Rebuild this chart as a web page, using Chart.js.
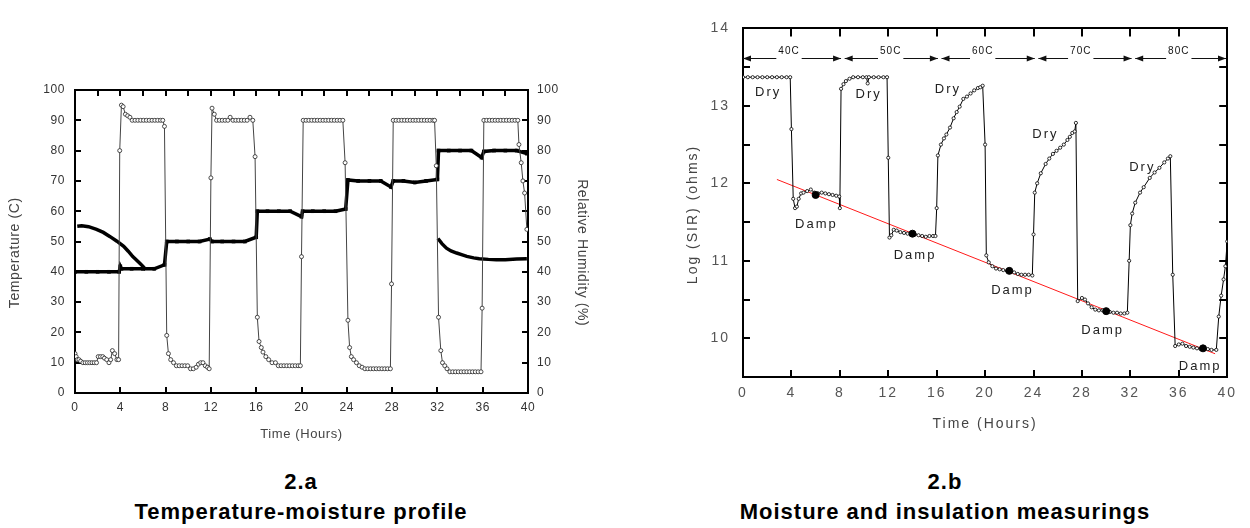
<!DOCTYPE html>
<html>
<head>
<meta charset="utf-8">
<script src="https://cdn.jsdelivr.net/npm/chart.js@4.4.1/dist/chart.umd.min.js"></script>
<style>
  html, body { margin: 0; padding: 0; background: #fff; }
  #page { position: relative; width: 1250px; height: 528px; overflow: hidden; }
  canvas { position: absolute; }
  #chartA { left: 0; top: 60px; }
  #chartB { left: 640px; top: 0; }
  .cap { position: absolute; width: 600px; text-align: center; font: bold 22px 'Liberation Sans', Arial, sans-serif; letter-spacing: 1px; line-height: 30px; color: #000; }
</style>
</head>
<body>
<div id="page">
  <canvas id="chartA" width="620" height="400"></canvas>
  <canvas id="chartB" width="610" height="440"></canvas>
  <div class="cap" style="left:1px; top:467px">2.a</div>
  <div class="cap" style="left:1px; top:497px">Temperature-moisture profile</div>
  <div class="cap" style="left:645px; top:467px">2.b</div>
  <div class="cap" style="left:645px; top:497px">Moisture and insulation measurings</div>
</div>
<script>
// ---- 2.a : temperature / humidity profile, [hours, value] ----
const humidity = [
  [0,13],[0.1,12],[0.2,11],[0.35,11],[0.5,10.5],[0.7,10],[0.9,10],[1.1,10],[1.3,10],[1.5,10],[1.7,10],[1.9,10],
  [2.05,12],[2.25,12],[2.45,12],[2.6,11.5],[2.8,11],[3.0,10],[3.15,11],[3.3,14],[3.5,13],[3.7,11],[3.85,11],
  [3.95,80],[4.1,95],[4.25,94.5],[4.45,92],[4.65,91.5],[4.85,91],[5.05,90],[5.3,90],[5.55,90],[5.8,90],[6.05,90],
  [6.3,90],[6.55,90],[6.8,90],[7.05,90],[7.3,90],[7.55,90],[7.75,90],[7.9,88],
  [8.1,19],[8.25,13],[8.45,11],[8.7,10],[8.95,9],[9.2,9],[9.45,9],[9.7,9],[9.95,9],[10.2,8],[10.45,8],[10.7,8.5],
  [10.9,9.5],[11.1,10],[11.3,10],[11.5,9],[11.7,8.5],[11.85,8],
  [12.0,71],[12.1,94],[12.3,92],[12.5,90],[12.75,90],[13.0,90],[13.25,90],[13.5,90],[13.7,91],[13.95,90],[14.2,90],
  [14.45,90],[14.7,90],[14.95,90],[15.2,90],[15.45,91],[15.7,90],[15.9,78],
  [16.1,25],[16.25,17],[16.45,15],[16.6,13.5],[16.85,12],[17.1,11],[17.4,10],[17.7,10],[17.95,9],[18.2,9],[18.45,9],
  [18.7,9],[18.95,9],[19.2,9],[19.45,9],[19.7,9],[19.9,9],
  [20.0,45],[20.15,90],[20.4,90],[20.65,90],[20.9,90],[21.15,90],[21.4,90],[21.65,90],[21.9,90],[22.15,90],[22.4,90],
  [22.65,90],[22.9,90],[23.15,90],[23.4,90],[23.65,90],[23.85,76],
  [24.1,24],[24.25,15],[24.4,12],[24.6,11],[24.85,10],[25.1,9],[25.35,8.5],[25.6,8],[25.85,8],[26.1,8],[26.35,8],
  [26.6,8],[26.85,8],[27.1,8],[27.35,8],[27.6,8],[27.85,8],
  [27.95,36],[28.1,90],[28.35,90],[28.6,90],[28.85,90],[29.1,90],[29.35,90],[29.6,90],[29.85,90],[30.1,90],[30.35,90],
  [30.6,90],[30.85,90],[31.1,90],[31.35,90],[31.6,90],[31.75,90],[31.9,75],
  [32.1,25],[32.3,14],[32.45,10],[32.65,9],[32.85,8],[33.1,7],[33.35,7],[33.6,7],[33.85,7],[34.1,7],[34.35,7],
  [34.6,7],[34.85,7],[35.1,7],[35.35,7],[35.6,7],[35.85,7],
  [35.95,28],[36.1,90],[36.35,90],[36.6,90],[36.85,90],[37.1,90],[37.35,90],[37.6,90],[37.85,90],[38.1,90],[38.35,90],
  [38.6,90],[38.85,90],[39.1,90],[39.2,82],[39.4,76],[39.55,70],[39.7,66],[39.9,54]
];

const temperature = [
  [0,40],[1,40],[2,40],[3,40],[3.9,40],[4.0,41.8],[4.1,41],[5,41],[6,41],[7,41],[7.9,42.3],
  [8.1,50],[9,50],[10,50],[11,50],[11.9,50.8],[12.1,50],[13,50],[14,50],[15,50],[16.0,51.4],
  [16.1,60],[17,60],[18,60],[19,60],[20.0,58.2],[20.1,60],[21,60],[22,60],[23,60],[23.9,60.7],
  [24.1,70.3],[25,70],[26,70],[27,70],[27.9,68],[28.1,70],[29,70],[30,69.5],[31,70],[32.0,70.5],
  [32.1,80],[33,80],[34,80],[35,80],[35.9,77.7],[36.1,79.7],[37,80],[38,80],[39,80],[39.9,79]
];

const coolingFirst = [
  [0.2,55],[0.6,55.2],[1.2,54.9],[1.9,54],[2.5,53],[3.1,51.6],[3.7,50.1],[4.3,48.4],[4.7,46.8],
  [5.1,45],[5.4,44],[5.7,42.9],[6.0,41.8],[6.25,40.7]
];
const coolingLast = [
  [32.05,51],[32.4,49.3],[32.8,47.8],[33.2,46.9],[33.7,46.2],[34.2,45.6],[34.6,45.1],[35.2,44.6],
  [35.7,44.3],[36.5,44.1],[37.2,44],[38,44],[39,44.2],[39.9,44.3]
];

// ---- 2.b : log SIR, [hours, log ohms] ----
const sir = [
  [0,13.37],[0.4,13.37],[0.8,13.37],[1.2,13.37],[1.6,13.37],[2.0,13.37],[2.4,13.37],[2.8,13.37],[3.2,13.37],[3.6,13.37],[3.9,13.37],
  [4.0,12.7],[4.15,11.8],[4.3,11.68],[4.45,11.7],[4.6,11.8],[4.8,11.87],[5.0,11.88],[5.3,11.9],[5.6,11.92],[5.9,11.88],
  [6.2,11.87],[6.5,11.88],[6.8,11.87],[7.1,11.86],[7.4,11.85],[7.7,11.84],[7.95,11.83],[8.0,11.68],
  [8.1,13.22],[8.3,13.28],[8.5,13.32],[8.8,13.35],[9.1,13.37],[9.5,13.37],[9.9,13.37],[10.2,13.37],[10.3,13.29],
  [10.4,13.37],[10.8,13.37],[11.2,13.37],[11.6,13.37],[11.9,13.37],
  [12.0,12.33],[12.1,11.3],[12.25,11.33],[12.45,11.4],[12.7,11.39],[13.0,11.37],[13.3,11.36],[13.6,11.35],[13.9,11.34],
  [14.2,11.34],[14.5,11.33],[14.8,11.32],[15.1,11.31],[15.4,11.32],[15.7,11.32],[15.9,11.32],
  [16.0,11.68],[16.1,12.36],[16.35,12.5],[16.6,12.58],[16.8,12.63],[17.1,12.72],[17.4,12.84],[17.65,12.92],[17.9,12.99],
  [18.2,13.09],[18.5,13.12],[18.8,13.16],[19.1,13.2],[19.4,13.23],[19.6,13.24],[19.8,13.26],
  [20.0,12.5],[20.1,11.07],[20.3,10.98],[20.6,10.93],[20.9,10.9],[21.2,10.89],[21.5,10.88],[21.8,10.87],[22.1,10.86],
  [22.4,10.85],[22.7,10.83],[23.0,10.82],[23.3,10.82],[23.6,10.82],[23.9,10.81],
  [24.0,11.34],[24.1,11.88],[24.3,12.0],[24.6,12.13],[25.0,12.25],[25.3,12.32],[25.6,12.38],[25.9,12.42],[26.2,12.46],
  [26.5,12.5],[26.8,12.56],[27.0,12.6],[27.2,12.65],[27.4,12.67],[27.5,12.78],
  [27.65,10.48],[28.0,10.52],[28.25,10.5],[28.5,10.45],[28.8,10.4],[29.1,10.37],[29.4,10.36],[29.7,10.36],[30.0,10.35],
  [30.3,10.34],[30.6,10.33],[30.9,10.33],[31.2,10.32],[31.5,10.32],[31.75,10.33],
  [31.9,11.0],[32.0,11.46],[32.15,11.61],[32.4,11.75],[32.8,11.88],[33.1,11.95],[33.6,12.07],[34.0,12.14],[34.4,12.2],
  [34.8,12.27],[35.1,12.32],[35.3,12.35],
  [35.5,10.82],[35.7,9.9],[36.0,9.92],[36.3,9.93],[36.6,9.9],[36.9,9.89],[37.2,9.88],[37.5,9.87],[37.8,9.86],
  [38.1,9.86],[38.4,9.86],[38.7,9.85],[39.1,9.85],
  [39.3,10.28],[39.5,10.55],[39.7,10.76],[39.85,10.93],[40.0,11.25]
];
const dampMeans = [[6,11.85],[14,11.35],[22,10.87],[30,10.35],[38,9.87]];
const dampTrend = [[2.8,12.05],[39,9.8]];

const dryLabels = [[1.0,13.18],[9.3,13.15],[15.85,13.21],[23.9,12.63],[31.9,12.21]];
const dampLabels = [[4.3,11.47],[12.45,11.07],[20.5,10.62],[27.95,10.1],[36.0,9.64]];
const stageNames = ['40C', '50C', '60C', '70C', '80C'];
const stageSpans = [[0,8.1],[8.4,16.1],[16.4,24.1],[24.4,32.1],[32.4,39.9]];
const stageLabelAt = [3.8, 12.2, 19.8, 27.9, 36.0];
const stageLevel = 13.62;
const stageTextLevel = 13.70;

const toPoints = (pairs) => pairs.map(([x, y]) => ({ x, y }));

Chart.defaults.font.family = "'Liberation Sans', Arial, sans-serif";
Chart.defaults.animation = false;

const ink = '#000';

function edgeGrid(len) {
    return { drawOnChartArea: false, tickLength: len, lineWidth: 2, color: ink };
}
const edgeBorder = { display: true, width: 2, color: ink };

function letterSpacing(px) {
    return {
        id: 'letterSpacing',
        beforeDraw(chart) {
            chart.ctx.letterSpacing = px;
        },
    };
}

// ---------- chart 2.a ----------
new Chart(document.getElementById('chartA'), {
    type: 'scatter',
    data: {
        datasets: [
            {
                label: 'Relative Humidity',
                data: toPoints(humidity),
                yAxisID: 'y1',
                showLine: true,
                borderColor: '#444',
                borderWidth: 1,
                pointRadius: 2,
                pointBackgroundColor: '#fff',
                pointBorderColor: '#222',
                pointBorderWidth: 0.8,
            },
            {
                label: 'Temperature',
                data: toPoints(temperature),
                yAxisID: 'y',
                showLine: true,
                borderColor: ink,
                borderWidth: 3.5,
                pointStyle: 'rect',
                pointRadius: 2.6,
                pointBorderWidth: 0,
                pointBackgroundColor: ink,
            },
            {
                label: 'Cooling 1',
                data: toPoints(coolingFirst),
                yAxisID: 'y',
                showLine: true,
                borderColor: ink,
                borderWidth: 3.5,
                pointRadius: 0,
            },
            {
                label: 'Cooling 2',
                data: toPoints(coolingLast),
                yAxisID: 'y',
                showLine: true,
                borderColor: ink,
                borderWidth: 3.5,
                pointRadius: 0,
            },
        ],
    },
    options: {
        responsive: false,
        layout: { padding: 0 },
        plugins: { legend: { display: false }, tooltip: { enabled: false } },
        scales: {
            x: {
                type: 'linear', position: 'bottom', min: 0, max: 40,
                ticks: { stepSize: 4, padding: 13, color: '#333', font: { size: 12 } },
                grid: edgeGrid(-6),
                border: edgeBorder,
                title: { display: true, text: 'Time (Hours)', color: '#444', font: { size: 13 }, padding: { top: 0, bottom: 18 } },
                afterFit: (s) => { s.height = 67; },
            },
            x2: {
                type: 'linear', position: 'top', min: 0, max: 40,
                ticks: { stepSize: 2, callback: () => '' },
                grid: edgeGrid(-6),
                border: edgeBorder,
                afterFit: (s) => { s.height = 30; },
            },
            y: {
                position: 'left', min: 0, max: 100,
                ticks: { stepSize: 10, padding: 16, color: '#333', font: { size: 12 } },
                grid: edgeGrid(-6),
                border: edgeBorder,
                title: { display: true, text: 'Temperature (C)     ', color: '#444', font: { size: 14 }, padding: { top: 7, bottom: 0 } },
                afterFit: (s) => { s.width = 75; },
            },
            y1: {
                position: 'right', min: 0, max: 100,
                ticks: { stepSize: 10, padding: 15, color: '#333', font: { size: 12 } },
                grid: edgeGrid(-6),
                border: edgeBorder,
                title: { display: true, text: '     Relative Humidity (%)', color: '#444', font: { size: 14 }, padding: { top: 30, bottom: 0 } },
                afterFit: (s) => { s.width = 92; },
            },
        },
    },
    plugins: [letterSpacing('0.6px')],
});

// ---------- chart 2.b ----------
const sirNotes = {
    id: 'sirNotes',
    afterDatasetsDraw(chart) {
        const { ctx } = chart;
        const xs = chart.scales.x;
        const ys = chart.scales.y;
        ctx.save();
        ctx.fillStyle = '#222';
        ctx.textBaseline = 'middle';
        ctx.textAlign = 'left';
        ctx.font = "13px 'Liberation Sans', Arial, sans-serif";
        dryLabels.forEach(([h, v]) => ctx.fillText('Dry', xs.getPixelForValue(h), ys.getPixelForValue(v)));
        dampLabels.forEach(([h, v]) => ctx.fillText('Damp', xs.getPixelForValue(h), ys.getPixelForValue(v)));

        // temperature stages with arrows
        ctx.font = "10px 'Liberation Sans', Arial, sans-serif";
        ctx.letterSpacing = '1px';
        ctx.textAlign = 'center';
        ctx.strokeStyle = '#111';
        ctx.fillStyle = '#111';
        ctx.lineWidth = 1;
        const ly = Math.round(ys.getPixelForValue(stageLevel)) + 0.5;
        const ty = ys.getPixelForValue(stageTextLevel);
        stageSpans.forEach(([a, b], i) => {
            const x0 = xs.getPixelForValue(a);
            const x1 = xs.getPixelForValue(b);
            const tx = xs.getPixelForValue(stageLabelAt[i]);
            const w = ctx.measureText(stageNames[i]).width;
            ctx.beginPath();
            ctx.moveTo(x0, ly);
            ctx.lineTo(tx - w / 2 - 2, ly);
            ctx.moveTo(tx + w / 2 + 2, ly);
            ctx.lineTo(x1, ly);
            ctx.stroke();
            [[x0, -1], [x1, 1]].forEach(([tip, dir]) => {
                ctx.beginPath();
                ctx.moveTo(tip, ly);
                ctx.lineTo(tip - dir * 8, ly - 3);
                ctx.lineTo(tip - dir * 8, ly + 3);
                ctx.closePath();
                ctx.fill();
            });
            ctx.fillText(stageNames[i], tx, ty);
        });
        ctx.restore();
    },
};

new Chart(document.getElementById('chartB'), {
    type: 'scatter',
    data: {
        datasets: [
            {
                label: 'Damp mean',
                data: toPoints(dampMeans),
                pointRadius: 3.5,
                pointBackgroundColor: ink,
                pointBorderColor: ink,
                showLine: false,
            },
            {
                label: 'Log SIR',
                data: toPoints(sir),
                showLine: true,
                borderColor: ink,
                borderWidth: 1,
                pointRadius: 1.6,
                pointBackgroundColor: '#fff',
                pointBorderColor: ink,
                pointBorderWidth: 0.8,
            },
            {
                label: 'Trend',
                data: toPoints(dampTrend),
                showLine: true,
                borderColor: '#ff1a1a',
                borderWidth: 1,
                pointRadius: 0,
            },
        ],
    },
    options: {
        responsive: false,
        layout: { padding: 0 },
        plugins: { legend: { display: false }, tooltip: { enabled: false } },
        scales: {
            x: {
                type: 'linear', position: 'bottom', min: 0, max: 40,
                ticks: { stepSize: 4, padding: 15, color: '#555', font: { size: 14 } },
                grid: edgeGrid(-7),
                border: edgeBorder,
                title: { display: true, text: 'Time (Hours)', color: '#444', font: { size: 14 }, padding: { top: 0, bottom: 7 } },
                afterFit: (s) => { s.height = 63; },
            },
            x2: {
                type: 'linear', position: 'top', min: 0, max: 40,
                ticks: { stepSize: 4, callback: () => '' },
                grid: edgeGrid(-8),
                border: edgeBorder,
                afterFit: (s) => { s.height = 17; },
            },
            y: {
                position: 'left', min: 9.5, max: 14,
                ticks: {
                    stepSize: 0.5, padding: 20, color: '#555', font: { size: 14 },
                    callback: (v) => (Number.isInteger(v) ? String(v) : ''),
                },
                grid: edgeGrid(-7),
                border: edgeBorder,
                title: { display: true, text: 'Log (SIR) (ohms)    ', color: '#444', font: { size: 14 }, padding: { top: 45, bottom: 0 } },
                afterFit: (s) => { s.width = 103; },
            },
            y2: {
                position: 'right', min: 9.5, max: 14,
                ticks: { stepSize: 0.5, callback: () => '' },
                grid: edgeGrid(-8),
                border: edgeBorder,
                afterFit: (s) => { s.width = 15; },
            },
        },
    },
    plugins: [letterSpacing('2px'), sirNotes],
});
</script>
</body>
</html>
